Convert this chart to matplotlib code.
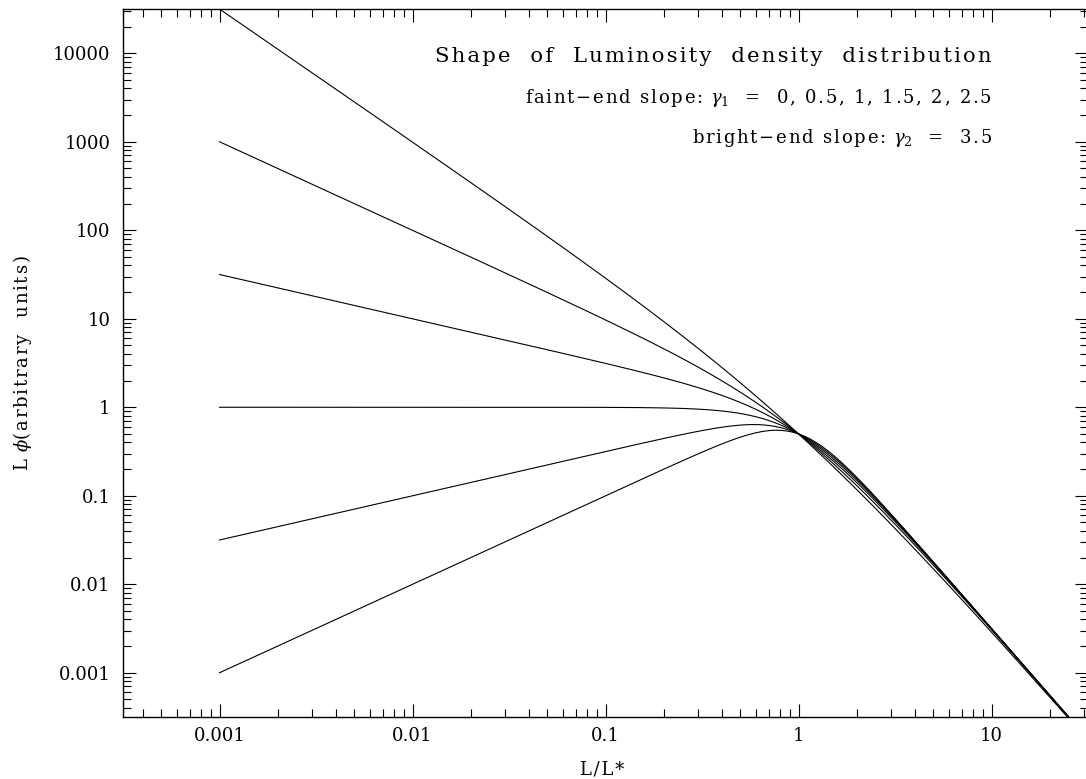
import numpy as np
import matplotlib
matplotlib.use("Agg")
import matplotlib.pyplot as plt
import matplotlib.ticker as mticker

plt.rcParams["font.family"] = ["DejaVu Serif", "DejaVu Sans"]
plt.rcParams["mathtext.fontset"] = "dejavuserif"

# model parameters shown on the chart
faint_slopes = [0, 0.5, 1, 1.5, 2, 2.5]   # gamma_1
bright_slope = 3.5                         # gamma_2
l_start, l_end = 1e-3, 10 ** 1.5           # L/L* range of the curves

x_ticks = [0.001, 0.01, 0.1, 1, 10]
x_tick_labels = ["0.001", "0.01", "0.1", "1", "10"]
y_ticks = [0.001, 0.01, 0.1, 1, 10, 100, 1000, 10000]
y_tick_labels = ["0.001", "0.01", "0.1", "1", "10", "100", "1000", "10000"]


def spaced(s):
    # wider letter spacing, like the old plotting font
    return "\u200a".join(s)


W, H = 1086, 779
fig = plt.figure(figsize=(W / 100, H / 100), dpi=100)
ax = fig.add_axes([123 / W, 62 / H, 965 / W, 708 / H])

x = np.logspace(np.log10(l_start), np.log10(l_end), 600)
for g1 in faint_slopes:
    # double power law: L phi = x / (x^g1 + x^g2)
    y = x / (x ** g1 + x ** bright_slope)
    ax.plot(x, y, color="black", lw=0.8)

ax.set_xscale("log")
ax.set_yscale("log")
ax.set_xlim(10 ** -3.5, 10 ** 1.5)
ax.set_ylim(10 ** -3.5, 10 ** 4.5)

ax.xaxis.set_major_locator(mticker.FixedLocator(x_ticks))
ax.xaxis.set_major_formatter(mticker.FixedFormatter(x_tick_labels))
ax.yaxis.set_major_locator(mticker.FixedLocator(y_ticks))
ax.yaxis.set_major_formatter(mticker.FixedFormatter(y_tick_labels))
ax.xaxis.set_minor_locator(mticker.LogLocator(base=10, subs=np.arange(2, 10), numticks=20))
ax.yaxis.set_minor_locator(mticker.LogLocator(base=10, subs=np.arange(2, 10), numticks=20))
ax.xaxis.set_minor_formatter(mticker.NullFormatter())
ax.yaxis.set_minor_formatter(mticker.NullFormatter())

ax.tick_params(which="both", direction="in", top=True, right=True, width=0.8, color="black")
ax.tick_params(which="major", length=9.4, labelsize=13)
ax.tick_params(which="minor", length=5.8)
ax.tick_params(axis="x", which="major", pad=7)
ax.tick_params(axis="y", which="major", pad=9)
for s in ax.spines.values():
    s.set_linewidth(1.0)

fig.text(992 / W, 1 - 62 / H, spaced("Shape  of  Luminosity  density  distribution"),
         ha="right", va="baseline", fontsize=15.3)
fig.text(992 / W, 1 - 103 / H,
         spaced("faint\u2212end slope: ") + "$\\gamma_1$" + spaced("  =  0, 0.5, 1, 1.5, 2, 2.5"),
         ha="right", va="baseline", fontsize=13)
fig.text(992 / W, 1 - 143 / H,
         spaced("bright\u2212end slope: ") + "$\\gamma_2$" + spaced("  =  3.5"),
         ha="right", va="baseline", fontsize=13)

fig.text(602 / W, 1 - 775 / H, spaced("L/L*"), ha="center", va="baseline", fontsize=13)
fig.text(23 / W, 1 - 363 / H, spaced("L ") + "$\\phi$" + spaced("(arbitrary  units)"),
         rotation=90, ha="center", va="center", fontsize=13)

fig.savefig("out.png", dpi=100)
